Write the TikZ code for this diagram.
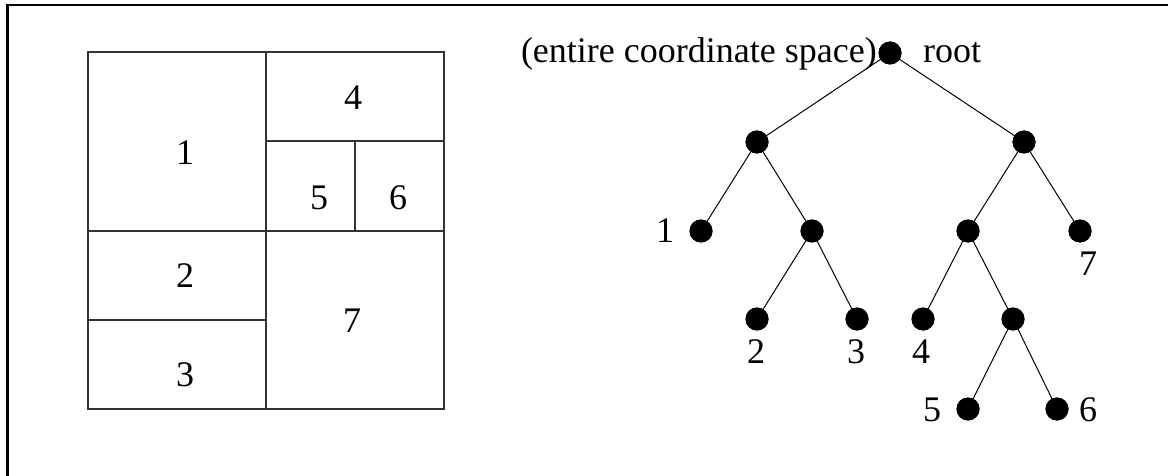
\documentclass[tikz,border=0pt]{standalone}
\usepackage{fontspec}
\setmainfont{Liberation Serif}
\begin{document}
\begin{tikzpicture}[x=1pt,y=-1pt,
  dot/.style={circle,fill=black,inner sep=0pt,minimum size=23pt},
  lbl/.style={inner sep=0pt,anchor=base,font=\fontsize{36}{40}\selectfont},
  grid/.style={line width=1.3pt,draw=black!80},
  edge/.style={line width=1pt,draw=black}]
\useasboundingbox (0,0) rectangle (1168,476);
% frame (top and left only)
\draw[line width=2.6pt] (7.5,476) -- (7.5,5) -- (1168,5);
% partition
\draw[grid] (88,52) rectangle (444,409);
\draw[grid] (266,52) -- (266,409);
\draw[grid] (88,231) -- (444,231);
\draw[grid] (88,320) -- (266,320);
\draw[grid] (266,141) -- (444,141);
\draw[grid] (355,141) -- (355,231);
\node[lbl] (g1) at (185,165) {1};
\node[lbl] (g4) at (353,110) {4};
\node[lbl] (g5) at (319,209) {5};
\node[lbl] (g6) at (398,209) {6};
\node[lbl] (g2) at (185,287) {2};
\node[lbl] (g3) at (185,386) {3};
\node[lbl] (g7) at (352,332) {7};
% tree
\node[dot] (r) at (890,53) {};
\node[dot] (a) at (757,142) {};
\node[dot] (b) at (1024,142) {};
\node[dot] (l1) at (701,231) {};
\node[dot] (c) at (812,231) {};
\node[dot] (d) at (968,231) {};
\node[dot] (l7) at (1080,231) {};
\node[dot] (l2) at (757,319) {};
\node[dot] (l3) at (857,319) {};
\node[dot] (l4) at (923,319) {};
\node[dot] (e) at (1013,319) {};
\node[dot] (l5) at (968,409) {};
\node[dot] (l6) at (1057,409) {};
\draw[edge] (r.center) -- (a.center);
\draw[edge] (r.center) -- (b.center);
\draw[edge] (a.center) -- (l1.center);
\draw[edge] (a.center) -- (c.center);
\draw[edge] (c.center) -- (l2.center);
\draw[edge] (c.center) -- (l3.center);
\draw[edge] (b.center) -- (d.center);
\draw[edge] (b.center) -- (l7.center);
\draw[edge] (d.center) -- (l4.center);
\draw[edge] (d.center) -- (e.center);
\draw[edge] (e.center) -- (l5.center);
\draw[edge] (e.center) -- (l6.center);
% redraw dots on top
\foreach \n in {r,a,b,l1,c,d,l7,l2,l3,l4,e,l5,l6} \fill (\n) circle (11.5pt);
\node[lbl,anchor=base east] (tl) at (877,63) {(entire coordinate space)};
\node[lbl,anchor=base west] (troot) at (923,63) {root};
\node[lbl] (t1) at (665,242) {1};
\node[lbl] (t2) at (756,363) {2};
\node[lbl] (t3) at (856,363) {3};
\node[lbl] (t4) at (921,363) {4};
\node[lbl] (t7) at (1088,275) {7};
\node[lbl] (t5) at (932,421) {5};
\node[lbl] (t6) at (1088,421) {6};
\end{tikzpicture}
\end{document}
